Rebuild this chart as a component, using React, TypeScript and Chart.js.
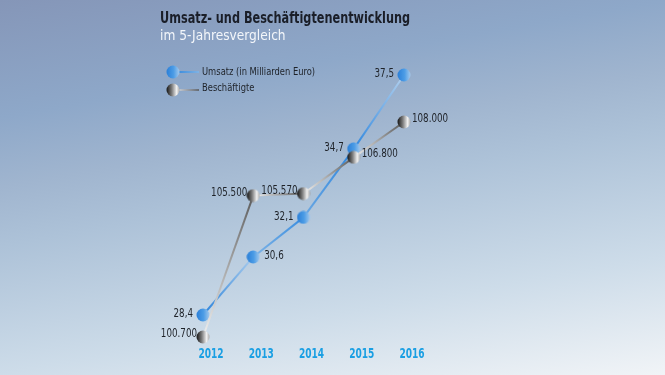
import React, { useEffect, useRef } from "react";
import { Chart, registerables } from "chart.js";

Chart.register(...registerables);

const FONT = "'DejaVu Sans Condensed', 'DejaVu Sans', sans-serif";

const years = ["2012", "2013", "2014", "2015", "2016"];
const umsatz = [28.4, 30.6, 32.1, 34.7, 37.5];
const beschaeftigte = [100700, 105500, 105570, 106800, 108000];
const umsatzLabelSide = ["left", "right", "left", "left", "left"];
const beschLabelSide = ["left", "left", "left", "right", "right"];

const titleText = "Umsatz- und Beschäftigtenentwicklung";
const subtitleText = "im 5-Jahresvergleich";
const legendUmsatz = "Umsatz (in Milliarden Euro)";
const legendBesch = "Beschäftigte";

// hidden axis ranges
const umsatzMin = 27.338;
const umsatzMax = 38.068;
const beschMin = 100496;
const beschMax = 110105;

// segment colour pairs (start -> end)
const umsatzSegColors = [
  ["#2d84db", "#a9cbec"],
  ["#7fb4e6", "#3a8ddf"],
  ["#6aa7e2", "#2e86de"],
  ["#2e86de", "#b3d1ee"],
];
const beschSegColors = [
  ["#f0f0f0", "#5c5c5c"],
  ["#f2f2f2", "#555555"],
  ["#f0f0f0", "#5a5a5a"],
  ["#eeeeee", "#555555"],
];

const fmtDec = (v: number) => v.toFixed(1).replace(".", ",");
const fmtInt = (v: number) => String(v).replace(/\B(?=(\d{3})+(?!\d))/g, ".");

function makeSphere(stops: [number, string][]) {
  const c = document.createElement("canvas");
  c.width = 14;
  c.height = 14;
  const g = c.getContext("2d")!;
  const grad = g.createLinearGradient(0.5, 0, 13.5, 0);
  stops.forEach(([o, col]) => grad.addColorStop(o, col));
  g.fillStyle = grad;
  g.beginPath();
  g.arc(7, 7, 6.5, 0, Math.PI * 2);
  g.fill();
  return c;
}

function drawScaled(
  ctx: CanvasRenderingContext2D,
  text: string,
  x: number,
  y: number,
  align: CanvasTextAlign,
  sx: number
) {
  ctx.save();
  ctx.translate(x, y);
  ctx.scale(sx, 1);
  ctx.textAlign = align;
  ctx.fillText(text, 0, 0);
  ctx.restore();
}

export default function App() {
  const ref = useRef<HTMLCanvasElement | null>(null);

  useEffect(() => {
    if (!ref.current) return;
    const blueSphere = makeSphere([
      [0, "#2a7fd8"],
      [0.55, "#4d9de6"],
      [1, "#a3c8ec"],
    ]);
    const graySphere = makeSphere([
      [0, "#141414"],
      [0.4, "#7a7a7a"],
      [0.78, "#f2f2f2"],
      [1, "#a8a8a8"],
    ]);

    const segGradient = (c: any, colors: string[][]) => {
      const i = c.p0DataIndex;
      const cols = colors[i] || colors[0];
      const g = c.chart.ctx.createLinearGradient(c.p0.x, c.p0.y, c.p1.x, c.p1.y);
      g.addColorStop(0, cols[0]);
      g.addColorStop(1, cols[1]);
      return g;
    };

    const textPlugin = {
      id: "texts",
      afterDraw(chart: any) {
        const ctx = chart.ctx as CanvasRenderingContext2D;
        ctx.save();
        ctx.textBaseline = "middle";

        // title + subtitle
        ctx.fillStyle = "#1a1e28";
        ctx.font = `bold 15px ${FONT}`;
        drawScaled(ctx, titleText, 160, 19, "left", 0.836);
        ctx.fillStyle = "#f3f6fa";
        ctx.font = `14px ${FONT}`;
        drawScaled(ctx, subtitleText, 160, 36, "left", 0.97);

        // legend
        const lg1 = ctx.createLinearGradient(173, 0, 199, 0);
        lg1.addColorStop(0, "#2d84db");
        lg1.addColorStop(1, "#7fb2e4");
        ctx.strokeStyle = lg1;
        ctx.lineWidth = 2;
        ctx.beginPath();
        ctx.moveTo(173, 72);
        ctx.lineTo(199, 72);
        ctx.stroke();
        ctx.drawImage(blueSphere, 166, 65);
        const lg2 = ctx.createLinearGradient(178, 0, 199, 0);
        lg2.addColorStop(0, "#d8d8d8");
        lg2.addColorStop(1, "#555555");
        ctx.strokeStyle = lg2;
        ctx.lineWidth = 1.5;
        ctx.beginPath();
        ctx.moveTo(178, 90);
        ctx.lineTo(199, 90);
        ctx.stroke();
        ctx.drawImage(graySphere, 166, 83);
        ctx.fillStyle = "#1e2228";
        ctx.font = `11px ${FONT}`;
        drawScaled(ctx, legendUmsatz, 202, 72, "left", 0.845);
        drawScaled(ctx, legendBesch, 202, 88, "left", 0.845);

        // x-axis category labels (positions from the category scale)
        const xs = chart.scales.x;
        ctx.fillStyle = "#1a9fe3";
        ctx.font = `bold 14px ${FONT}`;
        (chart.data.labels as string[]).forEach((lab: string, i: number) => {
          drawScaled(ctx, lab, xs.getPixelForValue(i) + 8, 354, "center", 0.72);
        });

        // data labels
        ctx.font = `12px ${FONT}`;
        ctx.fillStyle = "#1e2228";
        const specs = [
          { di: 0, sides: umsatzLabelSide, fmt: fmtDec, gapL: 10, gapR: 11, dy: -1 },
          { di: 1, sides: beschLabelSide, fmt: fmtInt, gapL: 6, gapR: 8, dy: -3 },
        ];
        specs.forEach((s) => {
          const meta = chart.getDatasetMeta(s.di);
          const data = chart.data.datasets[s.di].data as number[];
          meta.data.forEach((pt: any, i: number) => {
            const txt = s.fmt(data[i]);
            if (s.sides[i] === "left") {
              drawScaled(ctx, txt, pt.x - s.gapL, pt.y + s.dy, "right", 0.81);
            } else {
              drawScaled(ctx, txt, pt.x + s.gapR, pt.y + s.dy, "left", 0.81);
            }
          });
        });
        ctx.restore();
      },
    };

    const chart = new Chart(ref.current, {
      type: "line",
      data: {
        labels: years,
        datasets: [
          {
            label: legendUmsatz,
            data: umsatz,
            yAxisID: "y",
            order: 1,
            borderWidth: 2,
            borderColor: "#2e86de",
            pointStyle: blueSphere as any,
            pointRadius: 7,
            pointHoverRadius: 7,
            clip: false as any,
            tension: 0,
            segment: {
              borderColor: (c: any) => segGradient(c, umsatzSegColors),
              borderDashOffset: (c: any) => c.p0DataIndex,
            },
          },
          {
            label: legendBesch,
            data: beschaeftigte,
            yAxisID: "y2",
            order: 0,
            borderWidth: 2,
            borderColor: "#777777",
            pointStyle: graySphere as any,
            pointRadius: 7,
            pointHoverRadius: 7,
            clip: false as any,
            tension: 0,
            segment: {
              borderColor: (c: any) => segGradient(c, beschSegColors),
              borderDashOffset: (c: any) => c.p0DataIndex,
            },
          },
        ],
      },
      options: {
        animation: false,
        responsive: false,
        events: [],
        layout: { padding: { left: 203, right: 261, top: 60, bottom: 32 } },
        plugins: {
          legend: { display: false },
          tooltip: { enabled: false },
          title: { display: false },
        },
        scales: {
          x: {
            type: "category",
            offset: false,
            grid: { display: false, drawTicks: false },
            border: { display: false },
            ticks: { display: false },
          },
          y: { display: false, min: umsatzMin, max: umsatzMax },
          y2: { display: false, min: beschMin, max: beschMax },
        },
      },
      plugins: [textPlugin],
    });
    return () => chart.destroy();
  }, []);

  return (
    <div
      style={{
        position: "fixed",
        left: 0,
        top: 0,
        width: 665,
        height: 375,
        background:
          "linear-gradient(170deg, #8596b8 0%, #8ea8c9 24%, #a0b5cf 38%, #adc2d8 50%, #cddce9 76%, #f1f4f7 100%)",
      }}
    >
      <canvas ref={ref} width={665} height={375} style={{ display: "block" }} />
    </div>
  );
}
